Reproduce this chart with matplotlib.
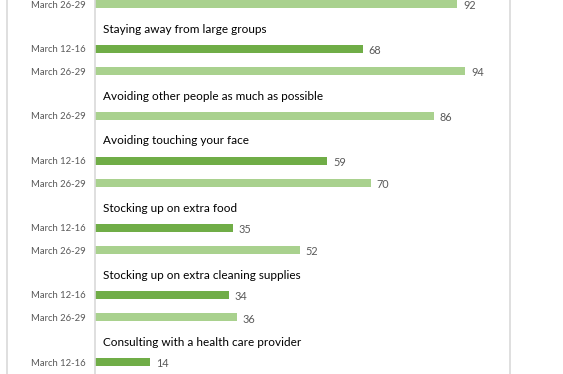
import matplotlib
matplotlib.use("Agg")
import matplotlib.pyplot as plt
from matplotlib.lines import Line2D

# rows from top to bottom; header rows have value None
row_labels = ["March 26-29",
              "Staying away from large groups", "March 12-16", "March 26-29",
              "Avoiding other people as much as possible", "March 26-29",
              "Avoiding touching your face", "March 12-16", "March 26-29",
              "Stocking up on extra food", "March 12-16", "March 26-29",
              "Stocking up on extra cleaning supplies", "March 12-16", "March 26-29",
              "Consulting with a health care provider", "March 12-16"]
row_values = [92,
              None, 68, 94,
              None, 86,
              None, 59, 70,
              None, 35, 52,
              None, 34, 36,
              None, 14]

dark = "#70AD47"
light = "#A9D18E"
grey = "#595959"
line_grey = "#D9D9D9"

plt.rcParams['font.family'] = ['Lato', 'DejaVu Sans']

W, H = 563, 374
fig = plt.figure(figsize=(W / 100, H / 100), dpi=100)
ax = fig.add_axes([95 / W, 0, 394 / W, 1])

slot = 22.375
ax.set_ylim((H - 4) / slot, -4 / slot)
ax.set_xlim(0, 100)

tick_pos, tick_lab = [], []
for i, (lab, val) in enumerate(zip(row_labels, row_values)):
    if val is None:
        ax.text(2, i + 0.12, lab, fontsize=8.5, color="black", va="center", ha="left")
        continue
    color = dark if lab == "March 12-16" else light
    ax.barh(i, val, height=0.36, color=color)
    ax.text(val + 1.5, i + 0.08, str(val), fontsize=7.8, color=grey, va="center", ha="left")
    tick_pos.append(i)
    tick_lab.append(lab)

ax.set_yticks(tick_pos)
ax.set_yticklabels(tick_lab, fontsize=6.8, color=grey)
ax.tick_params(axis="y", length=0, pad=7)
ax.set_xticks([])
for s in ["top", "right", "bottom"]:
    ax.spines[s].set_visible(False)
ax.spines["left"].set_color(line_grey)
ax.spines["left"].set_linewidth(1.2)
ax.patch.set_alpha(0)

# outer chart frame
for x in (7, 510):
    fig.add_artist(Line2D([x / W, x / W], [0, 1], color=line_grey, lw=1.2))

fig.savefig("out.png", dpi=100)
